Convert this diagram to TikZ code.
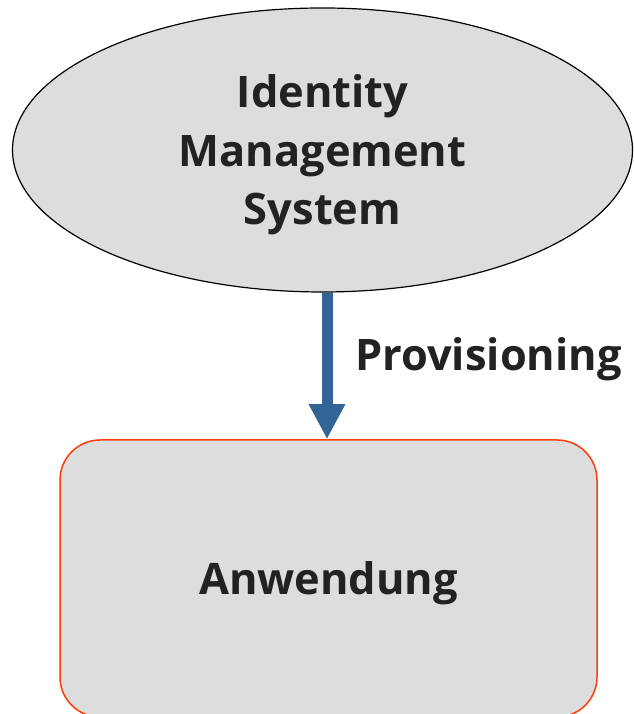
\documentclass[tikz,border=0pt]{standalone}
\usepackage{fontspec}
\setmainfont{Open Sans}
\usetikzlibrary{shapes.geometric,arrows.meta}
\definecolor{shapefill}{HTML}{DDDDDD}
\definecolor{boxline}{HTML}{FF3D0D}
\definecolor{flowblue}{HTML}{326496}
\definecolor{ink}{HTML}{222222}
\tikzset{
  labeltext/.style={font=\bfseries\fontsize{43.4pt}{58.5pt}\selectfont, text=ink},
  system/.style={ellipse, draw=black, line width=1.2pt, fill=shapefill,
    minimum width=620pt, minimum height=284pt, inner sep=0pt,
    align=center, text depth=0pt, labeltext},
  appbox/.style={rectangle, rounded corners=40pt, draw=boxline, line width=1.5pt,
    fill=shapefill, minimum width=537pt, minimum height=277pt, inner sep=0pt,
    text depth=0pt, labeltext},
  flow/.style={draw=flowblue, line width=11pt,
    -{Triangle[length=35pt,width=34pt,fill=flowblue]}},
}
\begin{document}
\begin{tikzpicture}[x=1pt,y=1pt]
  \useasboundingbox[fill=white] (0,0) rectangle (633,714);
  \node[appbox] (app) at (328.5,135.5) {Anwendung};
  \node[system] (ims) at (322.5,564) {Identity\\Management\\System};
  \draw[flow] ([xshift=4.5pt]ims.south) -- ([xshift=-1.5pt]app.north);
  \node[labeltext, anchor=base west, inner sep=0pt] (prov) at (355,343) {Provisioning};
\end{tikzpicture}
\end{document}
